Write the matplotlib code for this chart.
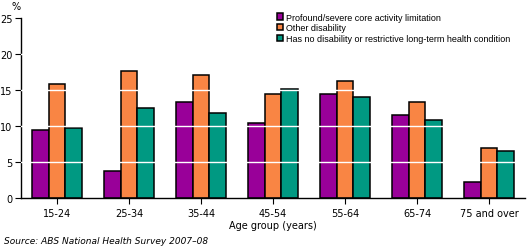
import numpy as np
import matplotlib
matplotlib.use("Agg")
import matplotlib.pyplot as plt

age_groups = ["15-24", "25-34", "35-44", "45-54", "55-64", "65-74", "75 and over"]
profound = [9.5, 3.8, 13.3, 10.4, 14.4, 11.5, 2.2]
other = [15.8, 17.6, 17.1, 14.5, 16.2, 13.4, 6.9]
no_disability = [9.7, 12.5, 11.8, 15.2, 14.0, 10.8, 6.5]

series_labels = [
    "Profound/severe core activity limitation",
    "Other disability",
    "Has no disability or restrictive long-term health condition",
]
colors = ["#990099", "#F98544", "#009982"]

plt.rcParams["font.family"] = ["DejaVu Sans"]

fig = plt.figure(figsize=(5.29, 2.53), dpi=100)
ax = fig.add_axes([21 / 529, 54 / 253, 504 / 529, 180 / 253])

x = np.arange(len(age_groups))
width = 0.23
for i, (vals, col, lab) in enumerate(zip([profound, other, no_disability], colors, series_labels)):
    ax.bar(x + (i - 1) * width, vals, width, color=col, edgecolor="black",
           linewidth=1.1, label=lab, zorder=2)

for v in [5, 10, 15, 20]:
    ax.axhline(v, color="white", linewidth=1.0, zorder=3)

ax.set_xlim(-0.5, len(age_groups) - 0.5)
ax.set_ylim(0, 25)
ax.set_yticks([0, 5, 10, 15, 20, 25])
ax.set_xticks(x)
ax.set_xticklabels(age_groups)
ax.tick_params(axis="both", labelsize=7, length=4, width=0.8, pad=2, colors="black")
ax.tick_params(axis="x", pad=3)

for side in ["top", "right"]:
    ax.spines[side].set_visible(False)
for side in ["left", "bottom"]:
    ax.spines[side].set_linewidth(1.0)

ax.set_xlabel("Age group (years)", fontsize=7, labelpad=2)
fig.text(12 / 529, 1 - 7 / 253, "%", fontsize=7, ha="left", va="center")
fig.text(4 / 529, 1 - 241 / 253, "Source: ABS National Health Survey 2007\u201308",
         fontsize=6.5, style="italic", ha="left", va="center")

ax.legend(loc="upper left", bbox_to_anchor=(272 / 529, 1 - 9 / 253),
          bbox_transform=fig.transFigure, frameon=False,
          prop={"family": ["Liberation Sans", "DejaVu Sans"], "size": 6.5},
          handlelength=0.75, handleheight=0.75, handletextpad=0.35,
          labelspacing=0.2, borderpad=0)

fig.savefig("out.png", dpi=100)
plt.close(fig)
